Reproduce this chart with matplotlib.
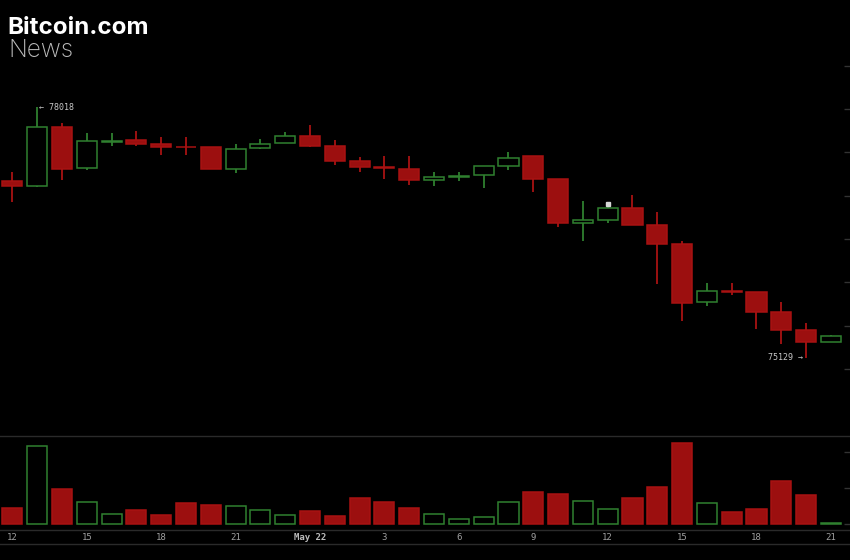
import numpy as np
import matplotlib
matplotlib.use("Agg")
import matplotlib.pyplot as plt
from matplotlib.lines import Line2D

opens = [77170, 77112, 77796, 77316, 77619, 77642, 77600, 77565, 77562, 77308, 77550, 77611,
         77689, 77573, 77404, 77328, 77311, 77181, 77216, 77235, 77343, 77458, 77189, 76682,
         76716, 76858, 76662, 76439, 75770, 75901, 75886, 75655, 75448, 75316]
closes = [77112, 77796, 77308, 77627, 77631, 77600, 77562, 77556, 77308, 77535, 77596, 77689,
          77577, 77404, 77334, 77316, 77181, 77216, 77227, 77343, 77438, 77193, 76682, 76716,
          76858, 76666, 76443, 75762, 75901, 75889, 75655, 75451, 75309, 75385]
highs = [77270, 78018, 77842, 77723, 77723, 77746, 77681, 77674, 77562, 77593, 77651, 77735,
         77815, 77642, 77450, 77458, 77458, 77270, 77277, 77343, 77504, 77458, 77189, 76939,
         76873, 77008, 76812, 76481, 75990, 75990, 75893, 75777, 75528, 75393]
lows = [76931, 77104, 77181, 77296, 77573, 77573, 77473, 77473, 77308, 77262, 77542, 77611,
        77565, 77351, 77277, 77193, 77127, 77115, 77170, 77089, 77296, 77039, 76642, 76478,
        76682, 76666, 75985, 75555, 75731, 75851, 75466, 75290, 75129, 75313]
volumes = [217, 1083, 480, 308, 138, 194, 129, 286, 267, 245, 194, 129, 184, 111, 355, 304, 225,
           138, 65, 97, 300, 443, 411, 322, 203, 355, 512, 1124, 290, 170, 203, 590, 397, 14]

date_ticks = [0, 3, 6, 9, 12, 15, 18, 21, 24, 27, 30, 33]
date_labels = ["12", "15", "18", "21", "May 22", "3", "6", "9", "12", "15", "18", "21"]
price_ticks = [75000, 75500, 76000, 76500, 77000, 77500, 78000, 78500]
volume_ticks = [0, 500, 1000]

RED_FILL = "#9c0f0f"
RED_EDGE = "#a81212"
GREEN = "#2f802f"

W, H = 850, 560
fig = plt.figure(figsize=(W / 100, H / 100), dpi=100, facecolor="black")
ax = fig.add_axes([0, 1 - 435.7 / H, 1, 435.7 / H], facecolor="black")
vol_ax = fig.add_axes([0, 1 - 529.7 / H, 1, 94 / H], facecolor="black")

xs = np.arange(len(opens))
rising = np.array(closes) >= np.array(opens)
bottoms = np.minimum(opens, closes)
heights = np.abs(np.array(closes) - np.array(opens))
faces = ["black" if up else RED_FILL for up in rising]
edges = [GREEN if up else RED_EDGE for up in rising]

# wicks first, bodies go on top of them
ax.vlines(xs, lows, highs, colors=edges, linewidth=1.3, zorder=2)
ax.bar(xs, heights, bottom=bottoms, width=0.81, color=faces, edgecolor=edges, linewidth=1.1, zorder=3)
vol_ax.bar(xs, volumes, width=0.81, color=faces, edgecolor=edges, linewidth=1.1)

ax.plot(24, 76899, marker="s", markersize=2.6, color="#d8d8d8", linestyle="none", zorder=4)

ax.annotate("← 78018", (1, 78018), xytext=(2, 0), textcoords="offset pixels", color="#c8c8c8",
            family="DejaVu Sans Mono", fontsize=6, va="center", ha="left")
ax.annotate("75129 →", (32, 75129), xytext=(-3, 0), textcoords="offset pixels", color="#c8c8c8",
            family="DejaVu Sans Mono", fontsize=6, va="center", ha="right")

for a in (ax, vol_ax):
    a.set_xlim(-0.5, 33.77)
    for spine in a.spines.values():
        spine.set_visible(False)
    a.yaxis.tick_right()
    a.tick_params(axis="y", direction="in", length=4, width=1, color="#333333", pad=0, labelright=False)

ax.set_ylim(74232, 79257)
ax.set_yticks(price_ticks)
ax.set_xticks([])

vol_ax.set_ylim(-79, 1221)
vol_ax.set_yticks(volume_ticks)
vol_ax.set_xticks(date_ticks)
vol_ax.set_xticklabels(date_labels, family="DejaVu Sans Mono", fontsize=6.5, color="#a0a0a0")
vol_ax.tick_params(axis="x", length=0, pad=2.5)
vol_ax.get_xticklabels()[4].set_color("#bbbbbb")
vol_ax.get_xticklabels()[4].set_fontweight("bold")

# separators above, below the volume panel and under the date strip
for py in (435.7, 529.7, 543.7):
    fig.add_artist(Line2D([0, 1], [1 - py / H, 1 - py / H], color="#2a2a2a", linewidth=1))

fig.text(7 / W, 1 - 34 / H, "Bitcoin.com", color="white", family="Inter", fontweight="bold",
         fontsize=17.4, va="baseline")
fig.text(8 / W, 1 - 57 / H, "News", color="#bdbdbd", family="Inter", fontweight="light",
         fontsize=17.6, va="baseline")

fig.savefig("out.png", dpi=100, facecolor="black")
